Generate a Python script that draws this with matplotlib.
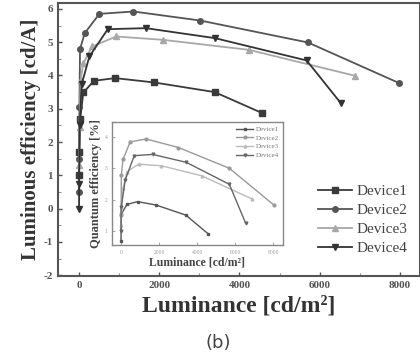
import numpy as np
import matplotlib
matplotlib.use('Agg')
import matplotlib.pyplot as plt

# main plot data: luminance [cd/m2] vs luminous efficiency [cd/A]
lum_dev1 = [1, 5, 30, 108, 375, 900, 1875, 3383, 4567]
eff_dev1 = [1.0, 1.7, 2.7, 3.49, 3.84, 3.92, 3.79, 3.50, 2.87]
lum_dev2 = [0.5, 3, 10, 25, 142, 508, 1358, 3020, 5708, 7983]
eff_dev2 = [0.5, 1.5, 3.05, 4.79, 5.27, 5.85, 5.92, 5.65, 4.99, 3.77]
lum_dev3 = [2, 12, 40, 108, 325, 925, 2092, 4233, 6883]
eff_dev3 = [1.3, 2.45, 3.87, 4.37, 4.87, 5.17, 5.07, 4.77, 3.99]
lum_dev4 = [0.5, 3, 15, 67, 258, 717, 1667, 3392, 5675, 6525]
eff_dev4 = [0.0, 0.75, 2.5, 3.74, 4.57, 5.39, 5.42, 5.12, 4.45, 3.17]

# inset data: luminance vs quantum efficiency [%]
in_lum_dev1 = [2, 16, 314, 869, 1848, 3403, 4586]
in_qe_dev1 = [0.7, 1.54, 1.85, 1.94, 1.83, 1.51, 0.91]
in_lum_dev2 = [5, 20, 105, 487, 1325, 3016, 5686, 8026]
in_qe_dev2 = [1.5, 2.78, 3.28, 3.84, 3.93, 3.66, 3.0, 1.83]
in_lum_dev3 = [5, 105, 314, 921, 2110, 4240, 6890]
in_qe_dev3 = [1.2, 2.36, 2.89, 3.13, 3.08, 2.76, 2.02]
in_lum_dev4 = [3, 16, 225, 696, 1655, 3419, 5686, 6545]
in_qe_dev4 = [1.0, 1.78, 2.63, 3.40, 3.44, 3.19, 2.49, 1.25]

labels = ['Device1', 'Device2', 'Device3', 'Device4']
markers = ['s', 'o', '^', 'v']
colors = ['#3a3a3a', '#555555', '#a8a8a8', '#333333']

plt.rcParams['font.family'] = ['Liberation Serif', 'DejaVu Serif']
plt.rcParams['axes.unicode_minus'] = False

fig = plt.figure(figsize=(4.2, 3.57), dpi=100)
ax = fig.add_axes([0.138, 0.227, 0.862, 0.765])

main_data = [(lum_dev1, eff_dev1), (lum_dev2, eff_dev2),
             (lum_dev3, eff_dev3), (lum_dev4, eff_dev4)]
for (x, y), lab, m, c in zip(main_data, labels, markers, colors):
    ax.plot(x, y, '-', marker=m, color=c, lw=1.3, ms=4, label=lab)

ax.set_xlim(-525, 8500)
ax.set_ylim(-2.02, 6.18)
ax.set_xticks([0, 2000, 4000, 6000, 8000])
ax.set_xticks(np.arange(1000, 8001, 2000), minor=True)
ax.set_yticks(range(-2, 7))
ax.set_yticks(np.arange(-1.5, 6, 1), minor=True)
ax.tick_params(direction='in', labelsize=8, colors='#555555', width=1.0, length=3)
ax.tick_params(which='minor', direction='in', length=2, colors='#777777')
for lbl in ax.get_xticklabels() + ax.get_yticklabels():
    lbl.set_fontweight('bold')
for s in ax.spines.values():
    s.set_linewidth(1.5)
    s.set_color('#555555')

ax.set_ylabel('Luminous efficiency [cd/A]', fontsize=15, fontweight='bold',
              color='#333333', labelpad=2)
ax.set_xlabel('Luminance [cd/m²]', fontsize=17, fontweight='bold',
              color='#333333', labelpad=4)
fig.text(0.52, 0.04, '(b)', fontsize=13, family='DejaVu Sans', color='#444444',
         ha='center', va='center')

ax.legend(loc='upper left', bbox_to_anchor=(0.68, 0.385), frameon=False,
          fontsize=11, handlelength=2.2, handletextpad=0.3, labelspacing=0.35,
          labelcolor='#444444')

# inset
ins = fig.add_axes([0.2667, 0.3137, 0.407, 0.3445])
inset_data = [(in_lum_dev1, in_qe_dev1), (in_lum_dev2, in_qe_dev2),
              (in_lum_dev3, in_qe_dev3), (in_lum_dev4, in_qe_dev4)]
in_colors = ['#555555', '#999999', '#bbbbbb', '#666666']
for (x, y), lab, m, c in zip(inset_data, labels, markers, in_colors):
    ins.plot(x, y, '-', marker=m, color=c, lw=1.0, ms=2, label=lab)
ins.set_xlim(-470, 8500)
ins.set_ylim(0.56, 4.47)
ins.set_xticks([0, 2000, 4000, 6000, 8000])
ins.set_yticks([1, 2, 3, 4])
ins.tick_params(direction='in', labelsize=4, colors='#999999', length=2, width=0.6)
for s in ins.spines.values():
    s.set_linewidth(1.0)
    s.set_color('#888888')
ins.set_ylabel('Quantum efficiency [%]', fontsize=9, fontweight='bold',
               color='#444444', labelpad=2)
ins.set_xlabel('Luminance [cd/m²]', fontsize=8.5, fontweight='bold',
               color='#444444', labelpad=1)
ins.legend(loc='upper right', frameon=False, fontsize=5, handlelength=2.5,
           handletextpad=0.3, labelspacing=0.4, borderaxespad=0.2,
           labelcolor='#777777')

fig.savefig('out.png', dpi=100)
